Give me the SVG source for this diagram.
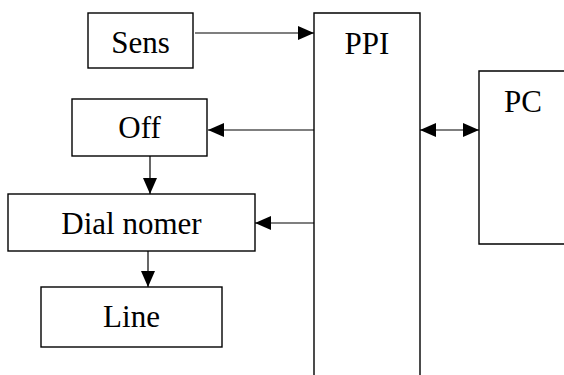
<svg xmlns="http://www.w3.org/2000/svg" width="564" height="375" viewBox="0 0 564 375">
<defs>
<style>
.box{fill:#fff;stroke:#000;stroke-width:1.4}
text{font-family:'Liberation Serif','Times New Roman',serif;font-size:31px;fill:#000}
.c{text-anchor:middle}
.con{stroke:#000;stroke-width:1.2;fill:none}
</style>
<marker id="ah" markerUnits="userSpaceOnUse" markerWidth="16" markerHeight="14" viewBox="0 0 16 14" refX="16" refY="7" orient="auto-start-reverse">
<path d="M0,0 L16,7 L0,14 z" fill="#000"/>
</marker>
</defs>
<g id="sens"><rect class="box" x="88" y="13" width="105" height="55"/><text class="c" x="140.5" y="53">Sens</text></g>
<g id="off"><rect class="box" x="72" y="99" width="135" height="57"/><text class="c" x="139.5" y="138">Off</text></g>
<g id="dial"><rect class="box" x="8" y="194" width="247" height="57"/><text class="c" x="131.5" y="234">Dial nomer</text></g>
<g id="line"><rect class="box" x="41" y="287" width="181" height="60"/><text class="c" x="131.5" y="327">Line</text></g>
<g id="ppi"><path class="box" d="M314,380 V13 H420 V380"/><text class="c" x="367" y="54">PPI</text></g>
<g id="pc"><path class="box" d="M570,71 H479 V244 H570"/><text x="504" y="112">PC</text></g>
<g id="connectors">
<line class="con" x1="195" y1="33" x2="314" y2="33" marker-end="url(#ah)"/>
<line class="con" x1="314" y1="130" x2="208" y2="130" marker-end="url(#ah)"/>
<line class="con" x1="150" y1="156" x2="150" y2="194" marker-end="url(#ah)"/>
<line class="con" x1="314" y1="223" x2="255" y2="223" marker-end="url(#ah)"/>
<line class="con" x1="148" y1="251" x2="148" y2="287" marker-end="url(#ah)"/>
<line class="con" x1="420" y1="130" x2="479" y2="130" marker-start="url(#ah)" marker-end="url(#ah)"/>
</g>
</svg>
